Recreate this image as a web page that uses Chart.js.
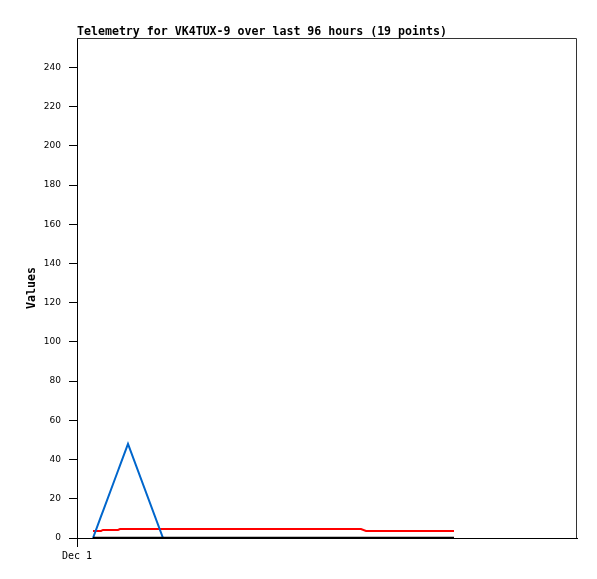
<!DOCTYPE html>
<html>
<head>
<meta charset="utf-8">
<script src="https://cdn.jsdelivr.net/npm/chart.js@4/dist/chart.umd.min.js"></script>
<style>
  html, body { margin: 0; padding: 0; background: #fff; }
  #wrap { width: 597px; height: 579px; }
</style>
</head>
<body>
<div id="wrap"><canvas id="telemetryChart" width="597" height="579"></canvas></div>
<script>
// hours since Dec 1 00:00
const hours = [3.2, 4.8, 5.2, 8.2, 8.6, 10.2, 17.2, 20.6, 24.6, 28.6, 32.6, 36.6, 40.6, 48.6, 56.8, 57.8, 64.6, 70.6, 75.4];
const blackValues = [0, 0, 0, 0, 0, 0, 0, 0, 0, 0, 0, 0, 0, 0, 0, 0, 0, 0, 0];
const blueValues = [0, 11, 13.7, 34.3, 37, 48, 0, 0, 0, 0, 0, 0, 0, 0, 0, 0, 0, 0, 0];
const redValues = [3.6, 3.6, 4.1, 4.1, 4.6, 4.6, 4.6, 4.6, 4.6, 4.6, 4.6, 4.6, 4.6, 4.6, 4.6, 3.6, 3.6, 3.6, 3.6];
const yTicks = [0, 20, 40, 60, 80, 100, 120, 140, 160, 180, 200, 220, 240];
const xTicks = [0];
const xTickLabels = ['Dec 1'];
const titleText = 'Telemetry for VK4TUX-9 over last 96 hours (19 points)';

const toPoints = vals => vals.map((v, i) => ({ x: hours[i], y: v }));

const frameAndTitle = {
    id: 'frameAndTitle',
    afterDraw(chart) {
        const c = chart.ctx;
        const a = chart.chartArea;
        c.save();
        c.strokeStyle = '#333';
        c.lineWidth = 1;
        c.beginPath();
        c.moveTo(a.left, a.top + 0.5);
        c.lineTo(a.right - 0.5, a.top + 0.5);
        c.lineTo(a.right - 0.5, a.bottom);
        c.stroke();
        c.fillStyle = '#000';
        c.font = 'bold 11.6px "DejaVu Sans Mono"';
        c.textBaseline = 'alphabetic';
        c.textAlign = 'left';
        c.fillText(titleText, a.left, 35);
        c.restore();
    }
};

const ctx = document.getElementById('telemetryChart').getContext('2d');
const chart = new Chart(ctx, {
    type: 'line',
    data: {
        datasets: [
            {
                label: 'black',
                data: toPoints(blackValues),
                borderColor: '#000000',
                borderWidth: 2.5,
                pointRadius: 0,
                tension: 0
            },
            {
                label: 'blue',
                data: toPoints(blueValues),
                borderColor: '#0066cc',
                borderWidth: 2,
                pointRadius: 0,
                tension: 0
            },
            {
                label: 'red',
                data: toPoints(redValues),
                borderColor: '#ff0000',
                borderWidth: 2,
                pointRadius: 0,
                tension: 0
            }
        ]
    },
    options: {
        responsive: false,
        animation: false,
        layout: { padding: { top: 38, right: 20, left: 0, bottom: 0 } },
        plugins: {
            legend: { display: false },
            tooltip: { enabled: false },
            title: { display: false }
        },
        scales: {
            x: {
                type: 'linear',
                min: 0,
                max: 100,
                afterBuildTicks: s => { s.ticks = xTicks.map(v => ({ value: v })); },
                afterFit: s => { s.height = 41; },
                ticks: {
                    color: '#000',
                    font: { family: '"DejaVu Sans Mono"', size: 10 },
                    padding: 3,
                    maxRotation: 0,
                    callback: (v) => xTickLabels[xTicks.indexOf(v)] || ''
                },
                grid: { drawOnChartArea: false, drawTicks: true, tickLength: 9, color: '#000' },
                border: { display: true, color: '#000', width: 1 }
            },
            y: {
                min: 0,
                max: 255,
                afterBuildTicks: s => { s.ticks = yTicks.map(v => ({ value: v })); },
                afterFit: s => { s.width = 77; },
                ticks: {
                    color: '#000',
                    font: { family: '"DejaVu Sans"', size: 9 },
                    padding: 8
                },
                grid: { drawOnChartArea: false, drawTicks: true, tickLength: 8, color: '#000' },
                border: { display: true, color: '#000', width: 1 },
                title: {
                    display: true,
                    text: 'Values',
                    color: '#000',
                    font: { family: '"DejaVu Sans Mono"', size: 11.6, weight: 'bold' },
                    padding: { top: 25, bottom: 0 }
                }
            }
        }
    },
    plugins: [frameAndTitle]
});
</script>
</body>
</html>
